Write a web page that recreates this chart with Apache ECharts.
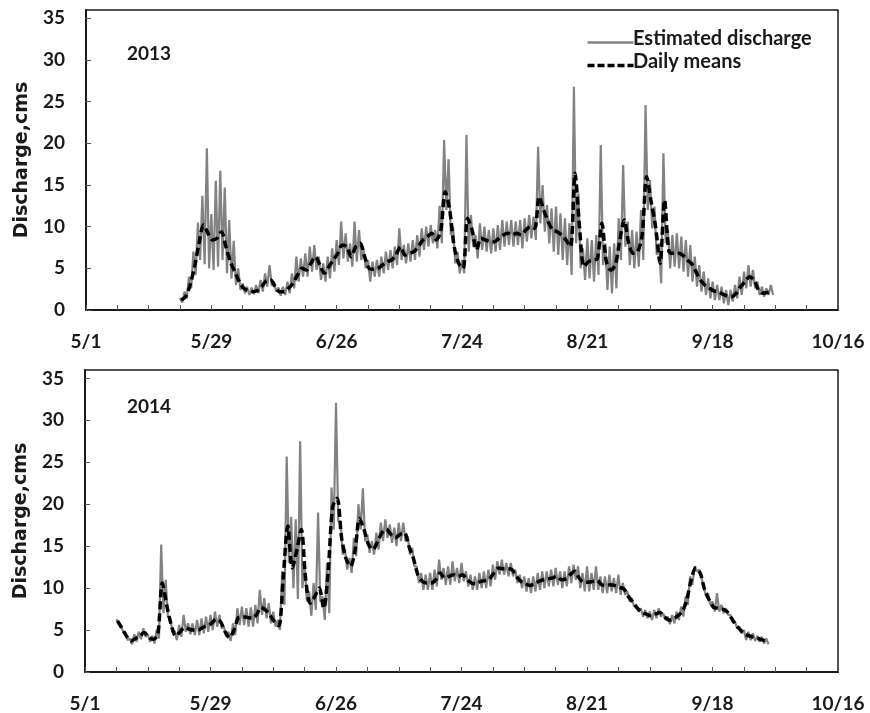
<!DOCTYPE html>
<html>
<head>
<meta charset="utf-8">
<script src="https://cdn.jsdelivr.net/npm/echarts@6/dist/echarts.min.js"></script>
<style>
  html, body { margin: 0; padding: 0; background: #fff; }
  #chart { width: 870px; height: 713px; }
</style>
</head>
<body>
<div id="chart"></div>
<script>
// Day 0 = 5/1; labelled ticks every 28 days
const tickLabels = ['5/1', '5/29', '6/26', '7/24', '8/21', '9/18', '10/16'];
const yearLabels = ['2013', '2014'];
const seriesNames = ['Estimated discharge', 'Daily means'];

// 2013: first day of record (days after 5/1)
const start2013 = 21;
// Sub-daily estimated discharge, [high, low] for each day, cms
const est2013 = [
  [1.4,0.9],[2.2,1.4],[4.0,2.6],[7.0,4.2],[10.5,6.0],[13.7,5.5],[19.4,5.0],[11.5,4.8],[15.5,5.2],[16.7,6.0],
  [14.7,4.4],[10.8,3.8],[8.3,3.0],[5.0,2.4],[3.2,2.0],[2.8,1.8],[2.7,1.9],[3.0,2.0],[3.6,2.2],[4.4,2.8],
  [5.4,2.9],[3.4,2.2],[2.7,1.7],[2.8,1.8],[3.4,2.0],[4.4,2.6],[6.4,3.4],[6.2,4.0],[6.8,4.0],[7.6,4.6],
  [7.8,4.8],[6.4,3.6],[5.6,3.4],[6.4,3.8],[7.4,4.6],[8.4,5.4],[10.6,6.2],[9.2,5.8],[8.0,5.2],[10.6,5.8],
  [9.6,6.0],[7.2,5.0],[6.0,3.4],[5.8,4.0],[6.0,4.0],[6.4,4.4],[7.0,4.8],[7.2,5.0],[7.6,5.4],[9.8,6.0],
  [7.8,5.6],[8.0,5.8],[8.4,6.0],[9.0,6.4],[9.8,7.2],[10.0,7.6],[10.2,8.0],[9.6,7.4],[12.5,8.0],[20.4,12.0],
  [18.1,9.0],[10.0,5.6],[7.0,4.4],[6.0,4.4],[21.0,7.0],[11.4,7.6],[9.0,6.2],[10.4,7.2],[10.0,7.0],[9.6,6.8],
  [9.8,7.0],[10.2,7.2],[10.8,7.6],[10.6,7.8],[10.8,7.6],[10.6,7.8],[10.8,7.4],[11.0,8.2],[11.4,8.6],[11.2,8.4],
  [19.6,10.4],[15.0,9.4],[12.6,8.0],[12.2,7.0],[12.4,6.6],[11.6,6.0],[11.0,5.4],[10.4,4.2],[26.8,8.0],[14.0,5.0],
  [7.4,3.6],[8.6,3.8],[8.4,3.4],[9.0,4.2],[19.8,5.4],[8.0,2.4],[7.6,2.0],[8.0,2.6],[11.0,6.0],[17.4,7.6],
  [10.6,5.4],[9.6,5.0],[9.4,5.2],[12.0,6.0],[24.6,12.0],[15.6,9.8],[12.4,6.6],[8.0,3.2],[18.8,8.0],[9.6,5.0],
  [9.0,5.2],[9.2,5.0],[8.8,4.6],[8.4,4.0],[7.8,3.4],[6.4,2.8],[5.4,2.2],[4.6,1.8],[3.8,1.4],[3.4,1.2],
  [3.0,1.2],[2.8,0.8],[2.4,0.6],[2.4,1.0],[3.0,1.4],[4.0,1.8],[4.6,2.6],[5.4,2.8],[4.8,2.6],[3.4,1.8],
  [2.8,1.6],[2.6,1.8],[3.0,1.8]
];
// Daily mean discharge, cms
const mean2013 = [
  1.2,1.6,3.0,5.2,8.0,10.2,9.2,8.4,8.6,9.4,
  7.6,5.8,4.6,3.4,2.6,2.3,2.2,2.3,2.8,3.5,
  3.6,2.8,2.2,2.2,2.6,3.2,4.2,5.0,4.8,5.6,
  6.4,5.4,4.4,5.2,6.0,6.8,7.8,7.6,6.4,7.6,
  8.0,6.4,5.0,4.9,5.0,5.4,5.8,6.0,6.6,7.6,
  6.6,6.8,7.0,7.6,8.4,8.8,9.2,8.4,9.5,14.2,
  12.0,7.6,5.6,5.0,11.0,9.6,7.2,8.6,8.4,8.2,
  8.2,8.6,9.0,9.2,9.0,9.2,9.0,9.6,10.0,9.8,
  13.6,12.0,10.6,9.6,9.4,9.0,8.4,7.6,16.4,10.0,
  5.2,5.8,6.0,6.2,10.4,5.8,4.8,5.4,8.4,10.8,
  8.0,6.8,7.0,9.0,16.0,13.0,10.0,5.6,13.2,7.0,
  6.8,6.8,6.6,6.0,5.6,4.6,3.6,3.0,2.6,2.3,
  2.2,1.9,1.7,1.6,2.0,2.8,3.4,4.0,3.6,2.4,
  2.0,2.1,2.2
];

// 2014
const start2014 = 7;
const est2014 = [
  [6.3,5.8],[5.6,4.8],[4.6,3.8],[4.0,3.3],[4.5,3.6],[4.8,3.9],[5.2,4.2],[4.5,3.6],[4.3,3.4],[5.0,4.0],
  [15.2,7.0],[11.0,6.6],[6.4,4.8],[4.9,3.8],[5.6,4.2],[6.8,4.8],[5.8,4.5],[5.8,4.4],[6.2,4.4],[6.4,4.6],
  [6.6,4.8],[6.8,5.0],[7.2,5.4],[6.8,5.2],[5.4,4.2],[4.8,3.7],[5.8,4.4],[7.6,5.6],[7.8,5.6],[7.6,5.4],
  [7.7,5.4],[8.0,5.8],[9.8,6.8],[8.8,6.4],[8.2,5.8],[7.2,5.4],[6.2,5.0],[12.0,8.0],[25.7,13.0],[18.5,10.0],
  [18.2,8.7],[27.5,10.0],[13.0,8.4],[9.6,6.7],[10.6,7.4],[19.0,8.4],[9.0,6.2],[13.0,7.0],[22.0,17.0],[32.1,18.0],
  [18.0,14.0],[14.6,12.2],[13.6,11.8],[16.0,13.8],[20.0,17.0],[21.9,15.6],[16.4,14.2],[15.6,14.0],[16.6,14.6],[17.8,15.6],
  [18.2,16.0],[17.6,15.4],[17.2,15.0],[17.8,15.6],[17.8,15.6],[16.2,14.0],[14.8,12.6],[12.6,10.6],[11.8,9.8],[11.6,9.8],
  [11.8,9.8],[12.2,10.2],[13.4,11.0],[12.4,10.4],[12.6,10.4],[13.2,10.8],[12.4,10.6],[13.0,10.8],[12.0,10.2],[11.6,9.8],
  [11.4,9.8],[11.8,10.0],[12.0,10.0],[12.2,10.2],[12.8,11.0],[13.2,11.6],[13.4,11.6],[13.0,11.4],[13.0,11.4],[12.2,10.6],
  [11.6,10.0],[11.4,9.6],[11.2,9.4],[11.4,9.6],[11.8,9.8],[12.0,10.0],[12.0,10.2],[12.2,10.2],[12.4,10.4],[12.0,10.0],
  [12.0,10.2],[12.6,10.6],[12.8,11.0],[12.6,10.0],[11.8,9.6],[12.6,9.6],[11.8,9.8],[12.6,9.8],[11.4,9.4],[11.4,9.4],
  [11.6,9.6],[11.2,9.4],[11.6,9.2],[10.6,9.2],[9.6,8.4],[8.8,7.8],[8.0,7.2],[7.6,6.6],[7.4,6.4],[7.2,6.2],
  [7.4,6.4],[7.6,6.6],[7.0,6.2],[6.6,5.7],[6.8,5.8],[7.2,6.2],[7.8,6.6],[9.0,8.0],[11.4,10.4],[12.6,12.0],
  [12.2,11.4],[10.2,9.2],[9.4,8.0],[8.4,7.2],[9.4,7.2],[8.0,7.0],[7.6,6.8],[6.8,6.0],[6.0,5.2],[5.4,4.6],
  [5.0,3.8],[4.8,3.8],[4.6,3.7],[4.3,3.6],[4.2,3.4],[4.0,3.3]
];
const mean2014 = [
  6.1,5.2,4.3,3.7,4.0,4.3,4.7,4.1,3.9,4.5,
  10.6,7.9,5.6,4.3,4.8,5.3,5.1,5.0,5.0,5.3,
  5.5,5.8,6.3,6.0,4.8,4.1,5.0,6.5,6.6,6.5,
  6.4,6.8,7.7,7.4,6.8,6.0,5.5,11.5,17.4,12.4,
  14.5,17.0,11.0,8.2,9.0,10.0,7.6,12.0,19.7,20.7,
  16.0,13.5,12.6,14.5,18.3,17.0,15.2,14.6,15.5,16.6,
  17.0,16.4,16.0,16.4,16.6,15.0,13.6,11.6,10.8,10.6,
  10.6,11.0,11.8,11.2,11.4,11.6,11.4,11.6,11.0,10.6,
  10.5,10.8,10.9,11.1,11.8,12.4,12.3,12.3,12.2,11.4,
  10.8,10.5,10.3,10.5,10.8,11.0,11.1,11.2,11.4,11.0,
  11.1,11.6,12.0,11.2,10.7,10.7,10.8,10.9,10.4,10.3,
  10.4,10.3,10.1,9.9,9.0,8.3,7.6,7.1,6.9,6.7,
  6.9,7.1,6.6,6.2,6.3,6.7,7.2,8.6,11.0,12.4,
  11.8,9.8,8.6,7.7,7.6,7.5,7.2,6.4,5.6,5.0,
  4.5,4.3,4.1,4.0,3.8,3.6
];

const estPoints = (start, pairs) => {
  const out = [];
  pairs.forEach((p, i) => {
    out.push([start + i, p[0]]);
    out.push([start + i + 0.5, p[1]]);
  });
  return out;
};
const meanPoints = (start, vals) => vals.map((v, i) => [start + i + 0.25, v]);

const ink = '#1a1a1a';
const tickFont = { fontFamily: 'Lato', fontWeight: 'bold', fontSize: 19, color: ink };

const grids = [
  { left: 86, right: 32, top: 10, height: 300 },
  { left: 85, right: 32, top: 370, height: 303 }
];

const xAxes = grids.map((g, i) => ({
  type: 'value', gridIndex: i, min: 0, max: 168, interval: 7,
  axisLine: { lineStyle: { color: ink, width: 2 } },
  axisTick: { inside: true, length: 5, lineStyle: { color: '#555', width: 1 } },
  splitLine: { show: false },
  axisLabel: Object.assign({}, tickFont, {
    margin: 22,
    formatter: v => (v % 28 === 0 ? tickLabels[v / 28] : '')
  })
}));

const yAxes = grids.map((g, i) => ({
  type: 'value', gridIndex: i, min: 0, max: 36, interval: 5,
  name: 'Discharge,cms', nameLocation: 'middle', nameGap: 52, nameRotate: 90,
  nameTextStyle: { fontFamily: 'DejaVu Sans', fontWeight: 'bold', fontSize: 19, color: ink },
  axisLine: { lineStyle: { color: ink, width: 2 } },
  axisTick: { inside: true, length: 5, lineStyle: { color: '#555', width: 1 } },
  splitLine: { show: false },
  axisLabel: Object.assign({}, tickFont, {
    margin: 21, showMaxLabel: false,
    formatter: v => (v % 5 === 0 ? String(v) : '')
  })
}));

const estColor = '#828282';
const estStyle = { color: estColor, width: 2.2 };
const meanStyle = { color: '#000', width: 3.5, type: [8, 4] };

const series = [
  { name: seriesNames[0], type: 'line', xAxisIndex: 0, yAxisIndex: 0, symbol: 'none',
    lineStyle: estStyle, itemStyle: { color: estColor }, data: estPoints(start2013, est2013), z: 2 },
  { name: seriesNames[1], type: 'line', xAxisIndex: 0, yAxisIndex: 0, symbol: 'none', smooth: 0.3,
    lineStyle: meanStyle, itemStyle: { color: '#000' }, data: meanPoints(start2013, mean2013), z: 3 },
  { name: seriesNames[0], type: 'line', xAxisIndex: 1, yAxisIndex: 1, symbol: 'none',
    lineStyle: estStyle, itemStyle: { color: estColor }, data: estPoints(start2014, est2014), z: 2 },
  { name: seriesNames[1], type: 'line', xAxisIndex: 1, yAxisIndex: 1, symbol: 'none', smooth: 0.3,
    lineStyle: meanStyle, itemStyle: { color: '#000' }, data: meanPoints(start2014, mean2014), z: 3 }
];

// Legend key drawn as line samples with labels, upper right of the 2013 panel
const legendFont = { fontFamily: 'Lato', fontWeight: 'bold', fontSize: 20, fill: ink };
const legendKey = [
  { type: 'line', left: 585, top: 40, shape: { x1: 0, y1: 0, x2: 46, y2: 0 },
    style: { stroke: estColor, lineWidth: 2.5 } },
  { type: 'text', left: 633, top: 29, style: Object.assign({ text: seriesNames[0] }, legendFont) },
  { type: 'line', left: 585, top: 63, shape: { x1: 0, y1: 0, x2: 46, y2: 0 },
    style: { stroke: '#000', lineWidth: 3.5, lineDash: [7, 3] } },
  { type: 'text', left: 633, top: 52, style: Object.assign({ text: seriesNames[1] }, legendFont) }
];

const chart = echarts.init(document.getElementById('chart'), null, { renderer: 'canvas' });
chart.setOption({
  backgroundColor: '#fff',
  animation: false,
  grid: grids.map(g => Object.assign({ show: true, borderColor: ink, borderWidth: 1.5, backgroundColor: 'transparent' }, g)),
  xAxis: xAxes,
  yAxis: yAxes,
  title: [
    { text: yearLabels[0], left: 122, top: 39, textStyle: { fontFamily: 'Lato', fontWeight: 'bold', fontSize: 19, color: ink } },
    { text: yearLabels[1], left: 122, top: 392, textStyle: { fontFamily: 'Lato', fontWeight: 'bold', fontSize: 19, color: ink } }
  ],
  graphic: legendKey,
  series: series
});
</script>
</body>
</html>
